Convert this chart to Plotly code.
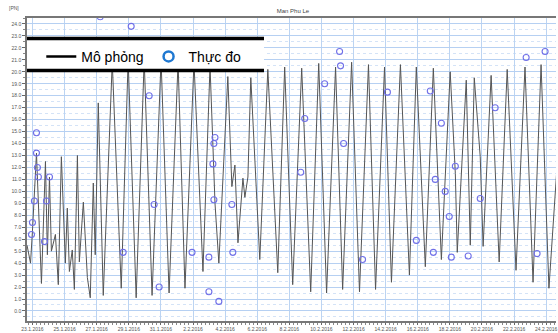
import pandas as pd
import plotly.graph_objects as go

# ---- data ----
BASE = pd.Timestamp("2016-01-23 00:00")
# simulated series: time offset in days from 23.1.2016 00:00, salinity value
sim_day = [-0.34, -0.12, 0.00, 0.25, 0.56, 0.81, 0.93, 1.06, 1.18, 1.43, 1.61, 1.80,
           2.05, 2.17, 2.30, 2.48, 2.61, 2.80, 2.92, 3.17, 3.42, 3.60, 3.79, 3.91,
           4.10, 4.41, 4.97, 5.53, 5.96, 6.46, 6.96, 7.45, 8.01, 8.51, 9.07, 9.50,
           10.06, 10.62, 11.06, 11.37, 11.61, 12.17, 12.42, 12.61, 12.80, 13.11, 13.23,
           13.42, 13.60, 14.16, 14.66, 15.28, 15.71, 16.21, 16.77, 17.33, 17.83, 18.32,
           18.88, 19.32, 19.88, 20.37, 20.93, 21.37, 21.93, 22.36, 22.92, 23.48, 23.91,
           24.47, 24.97, 25.47, 26.02, 26.34, 26.46, 27.02, 27.27, 27.52, 27.89, 28.07,
           28.57, 29.07, 29.57, 30.12, 30.68, 31.18, 31.68, 32.17, 32.67]
sim_val = [5.5, 4.0, 6.7, 13.2, 2.3, 12.5, 4.7, 11.2, 5.0, 6.4, 2.2, 12.9,
           4.0, 8.6, 3.3, 5.1, 1.8, 13.0, 4.1, 9.1, 2.8, 1.1, 10.7, 4.7,
           17.4, 1.3, 20.8, 1.9, 21.0, 1.1, 21.0, 1.3, 21.0, 1.5, 20.8, 1.9,
           20.8, 3.3, 20.5, 9.0, 4.0, 19.6, 10.4, 12.2, 5.7, 11.1, 9.5,
           11.2, 19.5, 4.3, 20.2, 3.2, 20.4, 2.2, 20.3, 1.6, 20.7, 1.5,
           20.4, 1.8, 20.8, 1.6, 20.6, 1.8, 20.4, 2.4, 20.6, 3.0, 20.4,
           3.7, 20.3, 4.3, 20.0, 11.5, 4.9, 19.3, 5.5, 19.5, 12.9, 5.4,
           19.7, 4.1, 20.2, 3.4, 20.4, 2.4, 20.6, 1.9, 12.0]

# measured series
obs_day = [4.22, 6.15, 0.25, 0.25, 0.31, 0.37, 0.12, 0.00, -0.06, 0.87, 1.06, 0.75,
           7.27, 7.58, 5.65, 7.89, 9.94, 10.99, 10.99, 11.61, 11.37, 11.30, 11.24, 11.30,
           12.42, 12.48, 19.13, 19.19, 18.20, 16.96, 19.38, 16.71, 20.56, 22.11, 24.78,
           25.47, 23.91, 25.09, 24.97, 25.71, 26.34, 25.96, 26.09, 27.14, 27.89, 28.82,
           30.75, 31.93, 31.43]
obs_val = [24.6, 23.8, 14.9, 13.2, 12.0, 11.2, 9.2, 7.4, 6.4, 9.2, 11.2, 5.8,
           18.0, 8.9, 4.9, 2.0, 4.9, 4.5, 1.6, 0.8, 14.5, 14.0, 12.3, 9.3,
           8.9, 4.9, 21.7, 20.5, 19.0, 16.1, 14.0, 11.6, 4.3, 18.3, 18.4,
           15.7, 5.9, 11.0, 4.9, 10.0, 12.1, 7.9, 4.5, 4.6, 9.4, 17.0,
           21.2, 21.7, 4.8]

title_text = "Man Phu Le"
y_unit = "[PN]"
name_sim = "Mô phỏng"
name_obs = "Thực đo"

sim_t = BASE + pd.to_timedelta(sim_day, unit="D")
obs_t = BASE + pd.to_timedelta(obs_day, unit="D")

fig = go.Figure()
fig.add_trace(go.Scatter(x=sim_t, y=sim_val, mode="lines", name=name_sim,
                         line=dict(color="#555555", width=1), showlegend=False))
fig.add_trace(go.Scatter(x=obs_t, y=obs_val, mode="markers", name=name_obs,
                         marker=dict(symbol="circle-open", size=6, color="#7070e8",
                                     line=dict(width=1.1, color="#7070e8")),
                         showlegend=False))
# legend-only entries
fig.add_trace(go.Scatter(x=[None], y=[None], mode="lines", name=name_sim,
                         line=dict(color="black", width=2.5)))
fig.add_trace(go.Scatter(x=[None], y=[None], mode="markers", name=name_obs,
                         marker=dict(symbol="circle-open", size=10, color="#1f78d1",
                                     line=dict(width=2.5, color="#1f78d1"))))

W, H = 558, 333
L, R, T, B = 27, 0, 18, 12

fig.update_layout(
    width=W, height=H,
    margin=dict(l=L, r=R, t=T, b=B),
    paper_bgcolor="white", plot_bgcolor="white",
    font=dict(family="Liberation Sans, Arial, sans-serif", color="#555555", size=5),
    title=dict(text=title_text, x=0.525, xanchor="center", y=1 - 11 / H, yanchor="middle",
               font=dict(size=6, color="#444444")),
    showlegend=True,
    legend=dict(orientation="h", x=0.027, xanchor="left", y=0.872, yanchor="middle",
                bgcolor="rgba(0,0,0,0)", borderwidth=0,
                font=dict(size=14, color="black"), itemwidth=30, tracegroupgap=0),
    shapes=[
        dict(type="rect", xref="paper", yref="paper", x0=0, x1=0.448, y0=0.822, y1=0.937,
             fillcolor="white", line=dict(width=0), layer="above"),
        dict(type="line", xref="paper", yref="paper", x0=0, x1=0.448, y0=0.932, y1=0.932,
             line=dict(color="black", width=3.5), layer="above"),
        dict(type="line", xref="paper", yref="paper", x0=0, x1=0.448, y0=0.827, y1=0.827,
             line=dict(color="black", width=3.5), layer="above"),
    ],
    annotations=[dict(text=y_unit, xref="paper", yref="paper", x=(7 - L) / (W - L),
                      y=(H - B - 8) / (H - T - B), xanchor="left", yanchor="middle",
                      showarrow=False, font=dict(size=5, color="#555555"))],
)

fig.update_xaxes(
    type="date",
    range=[BASE + pd.Timedelta(days=-0.34), BASE + pd.Timedelta(days=32.61)],
    tick0=BASE, dtick=2 * 86400000, tickformat="%-d.%-m.%Y",
    ticks="outside", ticklen=2, tickcolor="#666666", ticklabeloverflow="allow",
    showline=True, linecolor="#777777", linewidth=1.5, mirror=True,
    showgrid=True, gridcolor="#bcd4f2", gridwidth=1,
    minor=dict(dtick=6 * 3600000, ticks="outside", ticklen=2, tickcolor="#888888",
               showgrid=False),
    zeroline=False,
)
fig.update_yaxes(
    range=[-0.84, 24.5], dtick=1, tick0=0, tickformat=".1f",
    ticks="outside", ticklen=3, tickcolor="#666666",
    showline=True, linecolor="#777777", linewidth=1.5,
    showgrid=True, gridcolor="#b6d0f2", gridwidth=1,
    minor=dict(dtick=0.5, ticks="outside", ticklen=2, tickcolor="#888888",
               showgrid=True, gridcolor="#d4e3f7", griddash="dot", gridwidth=1),
    zeroline=False,
)

fig.write_html("out.html")
